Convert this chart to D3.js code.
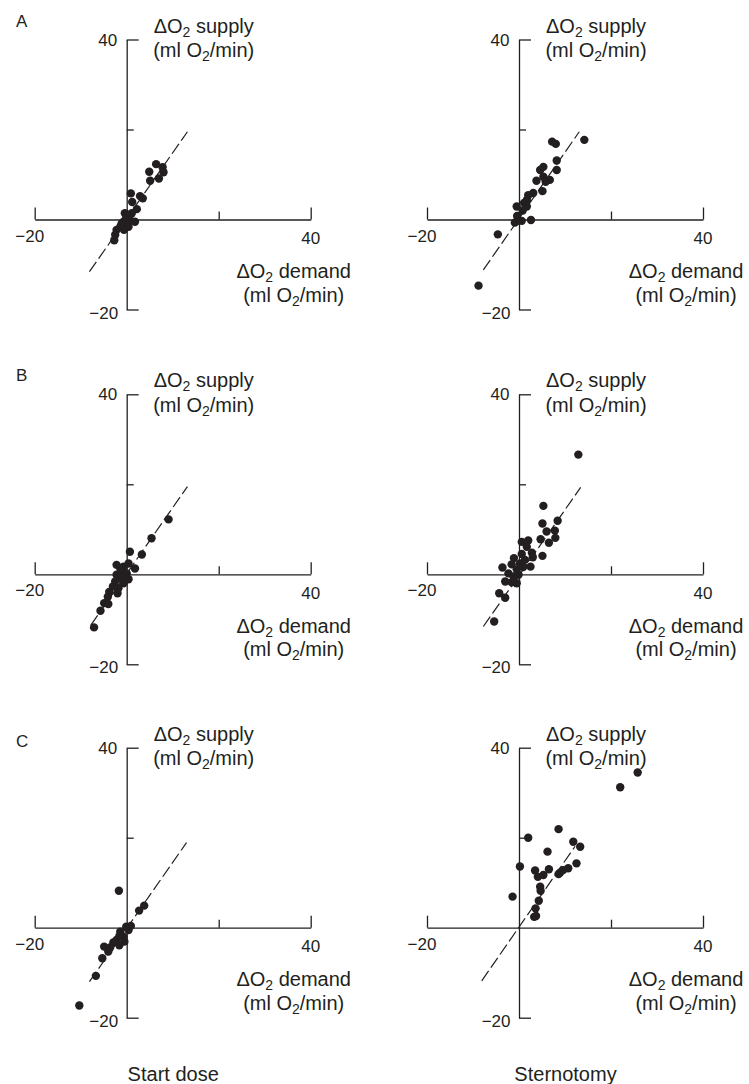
<!DOCTYPE html>
<html><head><meta charset="utf-8">
<script src="https://cdn.jsdelivr.net/npm/d3@7"></script>
<style>
body{margin:0;background:#fff;}
text{font-family:"Liberation Sans",Arial,Helvetica,sans-serif;fill:#231f20;}
</style></head><body>
<svg id="c" width="749" height="1084"></svg>
<script>
// ---------- data ----------
const panelLetters = ["A", "B", "C"];
const columnLabels = ["Start dose", "Sternotomy"];
const axisDomain = [-20, 40];
const tickValues = [-20, 20, 40];
const xTickLabels = ["−20", "", "40"];
const yTickLabels = ["−20", "", "40"];
const supplyTitle = ["ΔO", "2", " supply"];
const demandTitle = ["ΔO", "2", " demand"];
const unitTitle = ["(ml O", "2", "/min)"];

// [ΔO2 demand, ΔO2 supply]
const startDoseA = [[6.4,12.3],[7.8,11.6],[8.0,10.5],[4.9,10.6],[7.0,9.1],[5.1,8.6],[0.9,5.8],[2.9,5.2],[3.5,4.7],[1.2,3.9],[-0.4,1.4],[1.1,1.4],[2.2,2.3],[0.4,0.6],[1.8,-0.5],[-0.7,-0.5],[-1.4,-1.6],[0.4,-1.6],[-0.6,-2.3],[-2.2,-2.3],[-2.5,-3.4],[-2.7,-4.6],[-1.1,-0.9],[0.7,-0.1],[-0.1,0.3]];
const sternotomyA = [[14.2,17.7],[7.2,17.3],[8.0,16.8],[8.2,13.1],[5.3,11.7],[4.6,11.0],[8.2,11.0],[5.3,9.5],[3.8,8.6],[6.7,8.8],[5.8,8.4],[5.1,6.3],[3.1,5.9],[2.0,5.4],[1.7,4.3],[1.1,3.7],[1.7,2.9],[-0.5,2.9],[0.8,2.0],[-0.4,0.8],[-0.4,-0.3],[0.6,-0.3],[2.6,-0.1],[-0.9,-0.7],[-4.6,-3.3],[-8.8,-14.7]];
const startDoseB = [[9.1,12.2],[5.4,8.0],[3.3,4.4],[0.7,5.0],[1.8,1.3],[0.4,2.4],[-2.2,2.1],[-0.7,1.7],[-1.1,0.6],[0,0.2],[-2.2,-0.1],[-1.4,-0.9],[0.4,-1.1],[-2.5,-1.6],[-0.7,-2.0],[-3.0,-2.7],[-1.8,-3.1],[-3.8,-3.9],[-2.0,-4.2],[-4.1,-5.0],[-4.9,-6.4],[-4.0,-6.6],[-5.7,-8.1],[-7.1,-11.8],[-0.4,-0.5],[-1.4,1.3]];
const sternotomyB = [[12.9,26.6],[5.3,15.2],[5.1,11.3],[8.4,11.9],[6.0,9.5],[7.8,9.7],[7.9,8.1],[4.7,7.8],[6.5,7.0],[0.6,7.2],[2.0,7.5],[1.7,6.1],[2.8,4.8],[0.6,4.5],[3.0,3.8],[5.1,4.1],[-1.1,3.6],[1.3,3.2],[-1.6,2.2],[-3.6,1.5],[0.2,2.4],[2.5,1.7],[-0.5,1.1],[-2.3,0.2],[-1.2,-0.5],[-0.1,-0.1],[-3.0,-1.6],[-1.6,-1.8],[-0.5,-2.0],[-4.3,-4.2],[-3.0,-5.2],[-5.4,-10.5],[0.9,1.6]];
const startDoseC = [[-1.7,8.2],[3.8,4.9],[2.7,3.8],[0.9,0.4],[-0.1,0.2],[0.4,-0.5],[-1.4,-0.9],[-0.7,-2.0],[-0.5,-3.1],[-1.6,-1.9],[-1.6,-3.9],[-2.9,-3.3],[-3.6,-4.4],[-4.9,-4.2],[-4.0,-5.3],[-5.3,-6.8],[-6.7,-10.7],[-10.3,-17.3],[-2.2,-2.7]];
const sternotomyC = [[25.8,34.5],[22.0,31.2],[8.6,21.9],[2.0,20.0],[11.8,19.1],[13.3,18.0],[6.2,16.9],[12.5,14.3],[0.2,13.6],[3.5,12.7],[6.5,13.0],[4.1,11.3],[5.3,11.7],[8.9,12.2],[9.6,12.8],[10.7,13.2],[8.6,11.9],[4.6,9.1],[4.7,8.2],[4.3,6.0],[3.6,4.3],[3.3,2.4],[-1.4,6.9],[3.7,2.6]];

// dashed reference lines [start, end] in data units
const lineStartA = [[-8.1,-11.6],[13.2,19.5]];
const lineSternA = [[-7.75,-11.2],[13.1,19.5]];
const lineStartB = [[-7.8,-11.3],[13.2,19.5]];
const lineSternB = [[-7.75,-11.6],[13.4,19.3]];
const lineStartC = [[-8.1,-12.0],[13.0,18.9]];
const lineSternC = [[-8.1,-11.8],[12.2,18.1]];

const panelPoints = [[startDoseA, sternotomyA],[startDoseB, sternotomyB],[startDoseC, sternotomyC]];
const panelLines = [[lineStartA, lineSternA],[lineStartB, lineSternB],[lineStartC, lineSternC]];

// ---------- layout ----------
const colOrigin = [126.7, 519];
const rowOrigin = [219.5, 574.3, 927.7];
const letterBaseline = [27, 381, 747];
const pxX = 4.6, pxY = 4.5;
const ink = "#231f20";

const svg = d3.select("#c");

function titleText(g, parts, x, y, size) {
  const t = g.append("text").attr("x", x).attr("y", y)
    .attr("text-anchor", "middle").style("font-size", size + "px");
  t.append("tspan").text(parts[0]);
  t.append("tspan").text(parts[1]).attr("dy", 4).style("font-size", (size * 0.7) + "px");
  t.append("tspan").text(parts[2]).attr("dy", -4);
}

panelLetters.forEach((letter, r) => {
  svg.append("text").attr("x", 16).attr("y", letterBaseline[r])
    .style("font-size", "17px").text(letter);

  [0, 1].forEach(c => {
    const ox = colOrigin[c], oy = rowOrigin[r];
    const x = d3.scaleLinear().domain(axisDomain).range([ox + axisDomain[0] * pxX, ox + axisDomain[1] * pxX]);
    const y = d3.scaleLinear().domain(axisDomain).range([oy - axisDomain[0] * pxY, oy - axisDomain[1] * pxY]);
    const g = svg.append("g");

    // x axis
    const gx = g.append("g").attr("transform", `translate(0,${y(0)})`)
      .call(d3.axisBottom(x).tickValues(tickValues).tickSizeInner(-12).tickSizeOuter(0).tickFormat(""));
    gx.selectAll(".tick line").attr("y2", d => d === 20 ? -8 : -12);
    // y axis
    const gy = g.append("g").attr("transform", `translate(${x(0)},0)`)
      .call(d3.axisLeft(y).tickValues(tickValues).tickSizeInner(-12).tickSizeOuter(0).tickFormat(""));
    gy.selectAll(".tick line").attr("x2", d => d === 20 ? 7 : 12);
    g.selectAll(".domain, .tick line").attr("stroke", ink).attr("stroke-width", 1.3);

    // tick labels
    tickValues.forEach((v, i) => {
      if (!xTickLabels[i]) return;
      g.append("text").attr("x", x(v) + (v < 0 ? -5 : 0)).attr("y", y(0) + (v < 0 ? 22 : 24.5))
        .attr("text-anchor", "middle").style("font-size", "17px").text(xTickLabels[i]);
    });
    tickValues.forEach((v, i) => {
      if (!yTickLabels[i]) return;
      g.append("text").attr("x", x(0) - (v < 0 ? 8.5 : 9.5)).attr("y", y(v) + (v < 0 ? 9 : 6))
        .attr("text-anchor", "end").style("font-size", "17px").text(yTickLabels[i]);
    });

    // axis titles
    titleText(g, supplyTitle, x(0) + 77, y(40) - 7, 20);
    titleText(g, unitTitle, x(0) + 77, y(40) + 17.5, 20);
    titleText(g, demandTitle, x(0) + 167, y(0) + 58.5, 20);
    titleText(g, unitTitle, x(0) + 167, y(0) + 82, 20);

    // dashed line
    const ln = panelLines[r][c];
    g.append("path")
      .attr("d", d3.line().x(d => x(d[0])).y(d => y(d[1]))(ln))
      .attr("fill", "none").attr("stroke", ink).attr("stroke-width", 1.2)
      .attr("stroke-dasharray", "12,4");

    // points
    g.selectAll("circle.pt").data(panelPoints[r][c]).join("circle")
      .attr("class", "pt")
      .attr("cx", d => x(d[0])).attr("cy", d => y(d[1])).attr("r", 4.2)
      .attr("fill", ink);

    if (r === 2) {
      svg.append("text").attr("x", x(0) + 46.5).attr("y", 1081)
        .attr("text-anchor", "middle").style("font-size", "20px").text(columnLabels[c]);
    }
  });
});
</script>
</body></html>
